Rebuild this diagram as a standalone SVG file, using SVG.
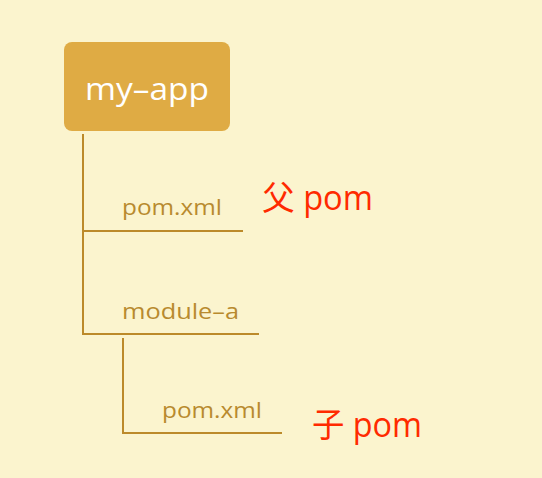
<svg xmlns="http://www.w3.org/2000/svg" width="542" height="478" viewBox="0 0 542 478">
<style>
.lbl{font-family:"Open Sans","Liberation Sans",sans-serif;font-size:21.5px;fill:#B88A2E}
.red{font-family:"Open Sans","Liberation Sans","Noto Sans CJK SC",sans-serif;font-size:34px;fill:#FF2A00}
.ln{stroke:#BC8A2A;stroke-width:2;fill:none}
</style>
<rect width="542" height="478" fill="#FBF4CE"/>
<g id="connectors">
<path class="ln" d="M83 134 V334 H259"/>
<path class="ln" d="M83 231 H243"/>
<path class="ln" d="M123 338 V433 H282"/>
</g>
<g id="my-app">
<rect x="64" y="42" width="166" height="89" rx="8" fill="#DFAB44"/>
<text x="147" y="100" text-anchor="middle" font-family="'Open Sans','Liberation Sans',sans-serif" font-size="31" fill="#FFFFFF" textLength="124" lengthAdjust="spacingAndGlyphs">my–app</text>
</g>
<g id="pom-parent">
<text class="lbl" x="122" y="215" textLength="100" lengthAdjust="spacingAndGlyphs">pom.xml</text>
</g>
<g id="module-a">
<text class="lbl" x="122" y="319" textLength="117" lengthAdjust="spacingAndGlyphs">module–a</text>
</g>
<g id="pom-child">
<text class="lbl" x="162" y="418" textLength="100" lengthAdjust="spacingAndGlyphs">pom.xml</text>
</g>
<g id="note-parent">
<text class="red" x="262" y="210" textLength="111" lengthAdjust="spacingAndGlyphs">父 pom</text>
</g>
<g id="note-child">
<text class="red" x="312" y="437" textLength="110" lengthAdjust="spacingAndGlyphs">子 pom</text>
</g>
</svg>
